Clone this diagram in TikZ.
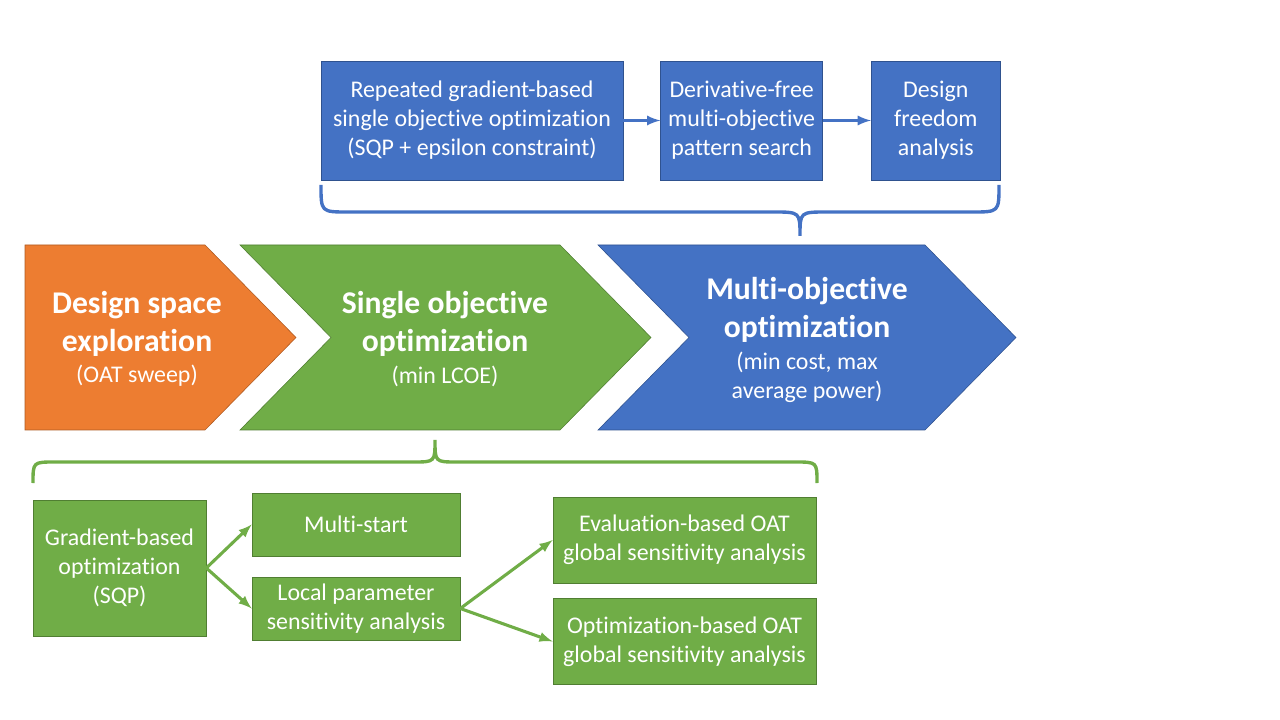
\documentclass[tikz,border=0pt]{standalone}
\usepackage{fontspec}
\setmainfont{Carlito}[Ligatures=NoCommon]
\usepackage{tikz}
\usetikzlibrary{arrows.meta}
\usetikzlibrary{arrows}
\usetikzlibrary{positioning}
\usetikzlibrary{calc}

\definecolor{blueface}{HTML}{4472C4}
\definecolor{bluedark}{HTML}{2F528F}
\definecolor{greenface}{HTML}{70AD47}
\definecolor{greendark}{HTML}{507E32}
\definecolor{orangeface}{HTML}{ED7D31}
\definecolor{orangedark}{HTML}{AE5A21}

\newcommand{\smalltxt}{\fontsize{17}{20.6}\selectfont}
\newcommand{\bigtxt}{\fontsize{22.5}{27}\selectfont\bfseries}

\tikzset{
  blockbox/.style={draw=bluedark, fill=blueface, text=white, align=center,
    inner sep=0pt, minimum height=2.975cm, font=\smalltxt},
  greenbox/.style={draw=greendark, fill=greenface, text=white, align=center,
    inner sep=0pt, font=\smalltxt},
  label/.style={text=white, align=center, inner sep=0pt},
  flow/.style={->, line width=2.2pt},
}

\begin{document}
\begin{tikzpicture}[x=0.025cm, y=-0.025cm, >=latex]
      \useasboundingbox (0,0) rectangle (1280,720);
      % multi-objective steps
      \node[blockbox, minimum width=7.55cm]  (repeat) at (472,120.5) {Repeated gradient-based\\single objective optimization\\(SQP + epsilon constraint)};
      \node[blockbox, minimum width=4.05cm]  (pattern) [right=0.925cm of repeat] {Derivative-free\\multi-objective\\pattern search};
      \node[blockbox, minimum width=3.225cm] (freedom) [right=1.2cm of pattern] {Design\\freedom\\analysis};
      \draw[flow, blueface] (repeat) -- (pattern);
      \draw[flow, blueface] (pattern) -- (freedom);
      \draw[blueface, line width=2.4pt]
        (321,185) .. controls (321,212) .. (348,212) -- (773,212)
        .. controls (800,212) .. (800,236) .. controls (800,212) .. (827,212)
        -- (972,212) .. controls (999,212) .. (999,185);

      % chevrons
      \draw[fill=orangeface, draw=orangedark] (25,245) -- (205,245) -- (296,337.5) -- (205,430) -- (25,430) -- cycle;
      \draw[fill=greenface, draw=greendark] (240,245) -- (560,245) -- (651,337.5) -- (560,430) -- (240,430) -- (331,337.5) -- cycle;
      \draw[fill=blueface, draw=bluedark] (598,245) -- (925,245) -- (1016,337.5) -- (925,430) -- (598,430) -- (689,337.5) -- cycle;
      \node[label, font=\bigtxt]   (dse)     at (137,324) {Design space\\exploration};
      \node[label, font=\smalltxt] (dse_s)   at (137,376) {(OAT sweep)};
      \node[label, font=\bigtxt]   (soo)     at (445,324) {Single objective\\optimization};
      \node[label, font=\smalltxt] (soo_s)   at (445,376) {(min LCOE)};
      \node[label, font=\bigtxt]   (moo)     at (807,310) {Multi-objective\\optimization};
      \node[label, font=\smalltxt] (moo_s)   at (807,377) {(min cost, max\\average power)};

      % single objective steps
      \draw[greenface, line width=2.4pt]
        (33,483) .. controls (33,462) .. (55,462) -- (413,462)
        .. controls (435,462) .. (435,440) .. controls (435,462) .. (457,462)
        -- (795,462) .. controls (817,462) .. (817,483);
      \node[greenbox, minimum width=4.325cm, minimum height=3.4cm]   (grad)  at (119.5,568)  {Gradient-based\\optimization\\(SQP)};
      \node[greenbox, minimum width=5.2cm, minimum height=1.575cm]   (mstart) at (356,524.5) {Multi-start};
      \node[greenbox, minimum width=5.2cm, minimum height=1.575cm]   (local) at (356,608.5)  {Local parameter\\sensitivity analysis};
      \node[greenbox, minimum width=6.575cm, minimum height=2.15cm]  (evalg) at (684.5,540)  {Evaluation-based OAT\\global sensitivity analysis};
      \node[greenbox, minimum width=6.575cm, minimum height=2.15cm]  (optg)  at (684.5,641.5) {Optimization-based OAT\\global sensitivity analysis};
      \draw[flow, greenface] (grad.east) -- (mstart.west);
      \draw[flow, greenface] (grad.east) -- (local.west);
      \draw[flow, greenface] (local.east) -- (evalg.west);
      \draw[flow, greenface] (local.east) -- (optg.west);
\end{tikzpicture}
\end{document}
